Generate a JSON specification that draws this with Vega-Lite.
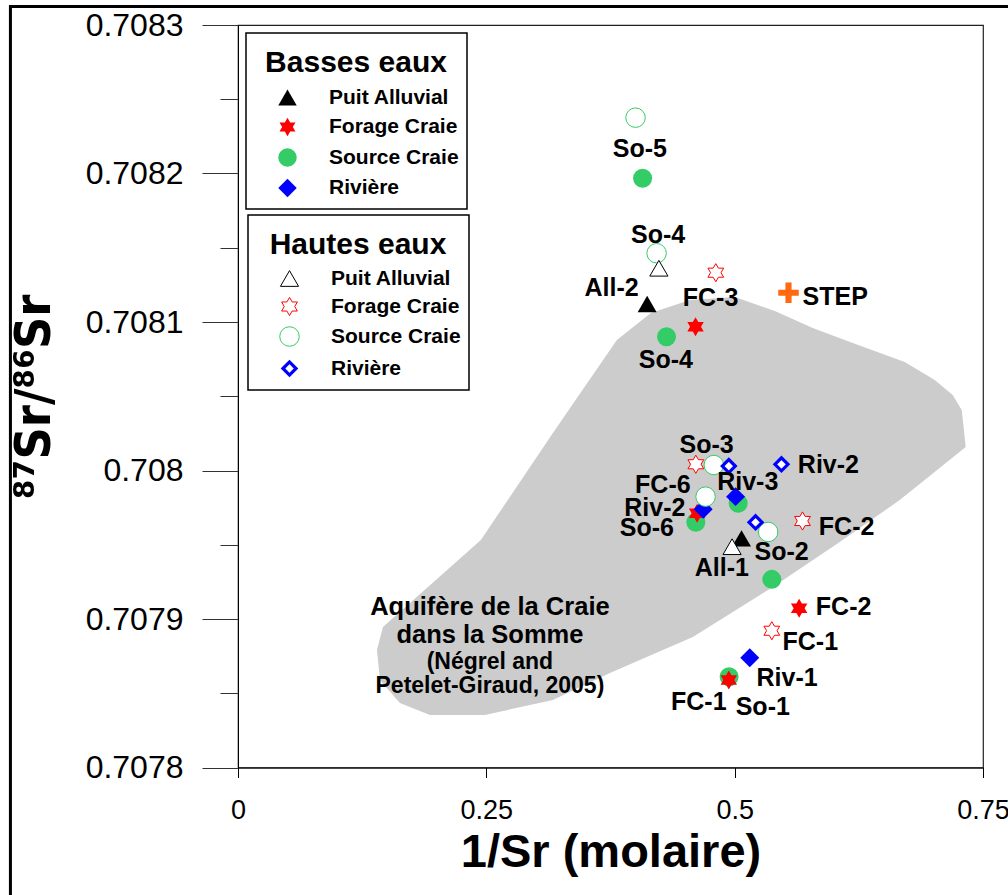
{
  "$schema": "https://vega.github.io/schema/vega-lite/v6.json",
  "autosize": {"type": "none"},
  "padding": {"left": 238, "top": 25, "right": 25, "bottom": 127.5},
  "width": 745,
  "height": 742.5,
  "background": "white",
  "datasets": {
    "region": [
      {"order": 1, "x": 0.4156, "y": 0.7081061},
      {"order": 2, "x": 0.4549, "y": 0.7081148},
      {"order": 3, "x": 0.5002, "y": 0.7081168},
      {"order": 4, "x": 0.5404, "y": 0.7081074},
      {"order": 5, "x": 0.5786, "y": 0.7080960},
      {"order": 6, "x": 0.6189, "y": 0.7080859},
      {"order": 7, "x": 0.6712, "y": 0.7080731},
      {"order": 8, "x": 0.7014, "y": 0.7080609},
      {"order": 9, "x": 0.7195, "y": 0.7080508},
      {"order": 10, "x": 0.7286, "y": 0.7080407},
      {"order": 11, "x": 0.7326, "y": 0.7080158},
      {"order": 12, "x": 0.6662, "y": 0.7079801},
      {"order": 13, "x": 0.6058, "y": 0.7079519},
      {"order": 14, "x": 0.5384, "y": 0.7079215},
      {"order": 15, "x": 0.4579, "y": 0.7078879},
      {"order": 16, "x": 0.3744, "y": 0.7078636},
      {"order": 17, "x": 0.3170, "y": 0.7078455},
      {"order": 18, "x": 0.2486, "y": 0.7078354},
      {"order": 19, "x": 0.1932, "y": 0.7078354},
      {"order": 20, "x": 0.1630, "y": 0.7078434},
      {"order": 21, "x": 0.1429, "y": 0.7078589},
      {"order": 22, "x": 0.1399, "y": 0.7078791},
      {"order": 23, "x": 0.1459, "y": 0.7078946},
      {"order": 24, "x": 0.2445, "y": 0.7079532},
      {"order": 25, "x": 0.3170, "y": 0.7080253},
      {"order": 26, "x": 0.3814, "y": 0.7080879}
    ],
    "basses": [
      {"type": "Source Craie", "id": "So-5", "x": 0.4073, "y": 0.7081968},
      {"type": "Source Craie", "id": "So-4", "x": 0.4314, "y": 0.7080901},
      {"type": "Source Craie", "id": "So-3", "x": 0.5035, "y": 0.7079779},
      {"type": "Source Craie", "id": "So-6", "x": 0.4609, "y": 0.7079651},
      {"type": "Source Craie", "id": "So-2", "x": 0.5374, "y": 0.7079267},
      {"type": "Source Craie", "id": "So-1", "x": 0.4944, "y": 0.7078611},
      {"type": "Forage Craie", "id": "FC-3", "x": 0.4606, "y": 0.7080968},
      {"type": "Forage Craie", "id": "FC-6", "x": 0.4622, "y": 0.7079712},
      {"type": "Forage Craie", "id": "FC-2", "x": 0.5649, "y": 0.7079072},
      {"type": "Forage Craie", "id": "FC-1", "x": 0.4941, "y": 0.7078589},
      {"type": "Rivière", "id": "Riv-3", "x": 0.5009, "y": 0.7079824},
      {"type": "Rivière", "id": "Riv-2", "x": 0.4683, "y": 0.7079739},
      {"type": "Rivière", "id": "Riv-1", "x": 0.5152, "y": 0.7078739},
      {"type": "Puit Alluvial", "id": "All-2", "x": 0.4119, "y": 0.7081121},
      {"type": "Puit Alluvial", "id": "All-1", "x": 0.5069, "y": 0.7079543}
    ],
    "hautes": [
      {"type": "Forage Craie", "id": "FC-3", "x": 0.4810, "y": 0.7081332},
      {"type": "Forage Craie", "id": "FC-6", "x": 0.4609, "y": 0.7080042},
      {"type": "Forage Craie", "id": "FC-2", "x": 0.5683, "y": 0.7079660},
      {"type": "Forage Craie", "id": "FC-1", "x": 0.5374, "y": 0.7078921},
      {"type": "Source Craie", "id": "So-5", "x": 0.4002, "y": 0.7082376},
      {"type": "Source Craie", "id": "So-4", "x": 0.4214, "y": 0.7081463},
      {"type": "Source Craie", "id": "So-3", "x": 0.4790, "y": 0.7080037},
      {"type": "Source Craie", "id": "So-6", "x": 0.4707, "y": 0.7079824},
      {"type": "Source Craie", "id": "So-2", "x": 0.5337, "y": 0.7079586},
      {"type": "Rivière", "id": "Riv-3", "x": 0.4941, "y": 0.7080030},
      {"type": "Rivière", "id": "Riv-2", "x": 0.5471, "y": 0.7080042},
      {"type": "Rivière", "id": "Riv-1", "x": 0.5210, "y": 0.7079651},
      {"type": "Puit Alluvial", "id": "All-2", "x": 0.4237, "y": 0.7081362},
      {"type": "Puit Alluvial", "id": "All-1", "x": 0.4974, "y": 0.7079487}
    ],
    "step": [
      {"id": "STEP", "x": 0.5542, "y": 0.7081197}
    ],
    "labels": [
      {"text": "So-5", "anchor": "center", "x": 0.4045, "y": 0.7082163},
      {"text": "So-4", "anchor": "center", "x": 0.4230, "y": 0.7081586},
      {"text": "All-2", "anchor": "center", "x": 0.3761, "y": 0.7081227},
      {"text": "FC-3", "anchor": "center", "x": 0.4757, "y": 0.7081160},
      {"text": "So-4", "anchor": "center", "x": 0.4307, "y": 0.7080744},
      {"text": "So-3", "anchor": "center", "x": 0.4717, "y": 0.7080172},
      {"text": "Riv-3", "anchor": "center", "x": 0.5132, "y": 0.7079925},
      {"text": "FC-6", "anchor": "center", "x": 0.4277, "y": 0.7079902},
      {"text": "Riv-2", "anchor": "center", "x": 0.4196, "y": 0.7079747},
      {"text": "So-6", "anchor": "center", "x": 0.4116, "y": 0.7079613},
      {"text": "So-2", "anchor": "center", "x": 0.5472, "y": 0.7079453},
      {"text": "All-1", "anchor": "center", "x": 0.4871, "y": 0.7079343},
      {"text": "FC-1", "anchor": "center", "x": 0.4639, "y": 0.7078443},
      {"text": "So-1", "anchor": "center", "x": 0.5283, "y": 0.7078409},
      {"text": "STEP", "anchor": "left", "x": 0.5683, "y": 0.7081166},
      {"text": "Riv-2", "anchor": "left", "x": 0.5636, "y": 0.7080037},
      {"text": "FC-2", "anchor": "left", "x": 0.5847, "y": 0.7079622},
      {"text": "FC-2", "anchor": "left", "x": 0.5817, "y": 0.7079083},
      {"text": "FC-1", "anchor": "left", "x": 0.5482, "y": 0.7078847},
      {"text": "Riv-1", "anchor": "left", "x": 0.5220, "y": 0.7078603}
    ],
    "note": [
      {"part": "main", "text": "Aquifère de la Craie\ndans la Somme", "x": 0.2536, "y": 0.7079027},
      {"part": "ref", "text": "(Négrel and\nPetelet-Giraud, 2005)", "x": 0.2536, "y": 0.7078663}
    ]
  },
  "layer": [
    {
      "encoding": {
        "x": {
          "field": "x", "type": "quantitative",
          "scale": {"domain": [0, 0.75], "nice": false, "zero": false},
          "axis": {
            "values": [0, 0.25, 0.5, 0.75],
            "format": ".2~f",
            "title": "1/Sr (molaire)",
            "titleFont": "Liberation Sans",
            "titleFontSize": 47,
            "titleFontWeight": "bold",
            "titleColor": "black",
            "titlePadding": 6,
            "labelFont": "Liberation Sans",
            "labelFontSize": 27,
            "labelColor": "black",
            "labelPadding": 20,
            "labelFlush": false,
            "tickSize": 10,
            "tickColor": "black",
            "domainColor": "black",
            "grid": false
          }
        },
        "y": {
          "field": "y", "type": "quantitative",
          "scale": {"domain": [0.7078, 0.7083], "nice": false, "zero": false},
          "axis": {
            "values": [0.7078, 0.70785, 0.7079, 0.70795, 0.708, 0.70805, 0.7081, 0.70815, 0.7082, 0.70825, 0.7083],
            "format": "~g",
            "labelExpr": "round(datum.value * 20000) % 2 == 0 ? datum.label : ''",
            "title": "⁸⁷Sr/⁸⁶Sr",
            "titleFont": "DejaVu Sans Condensed, Liberation Sans",
            "titleFontSize": 50,
            "titleFontWeight": "bold",
            "titleColor": "black",
            "titlePadding": 26,
            "labelFont": "Liberation Sans",
            "labelFontSize": 32,
            "labelColor": "black",
            "labelPadding": 19,
            "labelFlush": false,
            "labelOverlap": false,
            "tickSize": {"condition": {"test": "round(datum.value * 20000) % 2 == 0", "value": 36}, "value": 18},
            "tickColor": "#333333",
            "domainColor": "black",
            "grid": false
          }
        }
      },
      "layer": [
        {
          "data": {"name": "region"},
          "mark": {"type": "line", "filled": true, "fill": "#cccccc", "strokeWidth": 0},
          "encoding": {
            "order": {"field": "order", "type": "quantitative"}
          }
        },
        {
          "data": {"name": "note"},
          "transform": [{"filter": "datum.part == 'main'"}],
          "mark": {"type": "text", "font": "Liberation Sans", "fontWeight": "bold", "fontSize": 25.5, "lineHeight": 28, "lineBreak": "\n", "align": "center", "baseline": "alphabetic", "color": "black"},
          "encoding": {
            "text": {"field": "text"}
          }
        },
        {
          "data": {"name": "note"},
          "transform": [{"filter": "datum.part == 'ref'"}],
          "mark": {"type": "text", "font": "Liberation Sans", "fontWeight": "bold", "fontSize": 23, "lineHeight": 24, "lineBreak": "\n", "align": "center", "baseline": "alphabetic", "color": "black"},
          "encoding": {
            "text": {"field": "text"}
          }
        },
        {
          "data": {"name": "basses"},
          "mark": {"type": "point", "filled": true, "size": 360, "strokeWidth": 0, "opacity": 1},
          "encoding": {
            "shape": {
              "field": "type", "type": "nominal", "title": "Basses eaux",
              "scale": {"domain": ["Puit Alluvial", "Forage Craie", "Source Craie", "Rivière"], "range": ["triangle-up", "M0,-1L0.289,-0.5L0.866,-0.5L0.577,0L0.866,0.5L0.289,0.5L0,1L-0.289,0.5L-0.866,0.5L-0.577,0L-0.866,-0.5L-0.289,-0.5Z", "circle", "diamond"]},
              "legend": {"orient": "none", "legendX": 8, "legendY": 8, "titlePadding": 16, "rowPadding": 5.5}
            },
            "fill": {
              "field": "type", "type": "nominal", "title": "Basses eaux",
              "scale": {"domain": ["Puit Alluvial", "Forage Craie", "Source Craie", "Rivière"], "range": ["#000000", "#ff0000", "#33cc66", "#0000ff"]},
              "legend": {"orient": "none", "legendX": 8, "legendY": 8, "titlePadding": 16, "rowPadding": 5.5}
            }
          }
        },
        {
          "data": {"name": "hautes"},
          "mark": {"type": "point", "filled": false, "fill": "white", "fillOpacity": 1, "opacity": 1},
          "encoding": {
            "shape": {
              "field": "type", "type": "nominal", "title": "Hautes eaux",
              "scale": {"domain": ["Puit Alluvial", "Forage Craie", "Source Craie", "Rivière"], "range": ["triangle-up", "M0,-1L0.289,-0.5L0.866,-0.5L0.577,0L0.866,0.5L0.289,0.5L0,1L-0.289,0.5L-0.866,0.5L-0.577,0L-0.866,-0.5L-0.289,-0.5Z", "circle", "diamond"]},
              "legend": {"orient": "none", "legendX": 10, "legendY": 190, "titlePadding": 15, "rowPadding": 6}
            },
            "stroke": {
              "field": "type", "type": "nominal", "title": "Hautes eaux",
              "scale": {"domain": ["Puit Alluvial", "Forage Craie", "Source Craie", "Rivière"], "range": ["#000000", "#ff0000", "#33cc66", "#0000ff"]},
              "legend": {"orient": "none", "legendX": 10, "legendY": 190, "titlePadding": 15, "rowPadding": 6}
            },
            "strokeWidth": {
              "field": "type", "type": "nominal", "title": "Hautes eaux",
              "scale": {"type": "ordinal", "domain": ["Puit Alluvial", "Forage Craie", "Source Craie", "Rivière"], "range": [1, 1, 1, 3.2]},
              "legend": {"orient": "none", "legendX": 10, "legendY": 190, "titlePadding": 15, "rowPadding": 6}
            },
            "size": {
              "field": "type", "type": "nominal", "title": "Hautes eaux",
              "scale": {"type": "ordinal", "domain": ["Puit Alluvial", "Forage Craie", "Source Craie", "Rivière"], "range": [330, 330, 380, 170]},
              "legend": {"orient": "none", "legendX": 10, "legendY": 190, "titlePadding": 15, "rowPadding": 6}
            }
          }
        },
        {
          "data": {"name": "step"},
          "mark": {"type": "point", "shape": "M-1,-0.3H-0.3V-1H0.3V-0.3H1V0.3H0.3V1H-0.3V0.3H-1Z", "filled": true, "fill": "#ff6a10", "size": 420, "strokeWidth": 0, "opacity": 1}
        },
        {
          "data": {"name": "labels"},
          "transform": [{"filter": "datum.anchor == 'center'"}],
          "mark": {"type": "text", "font": "Liberation Sans", "fontWeight": "bold", "fontSize": 25, "align": "center", "baseline": "middle", "color": "black"},
          "encoding": {
            "text": {"field": "text"}
          }
        },
        {
          "data": {"name": "labels"},
          "transform": [{"filter": "datum.anchor == 'left'"}],
          "mark": {"type": "text", "font": "Liberation Sans", "fontWeight": "bold", "fontSize": 25, "align": "left", "baseline": "middle", "color": "black"},
          "encoding": {
            "text": {"field": "text"}
          }
        }
      ],
      "resolve": {
        "scale": {"shape": "independent", "fill": "independent", "stroke": "independent", "strokeWidth": "independent", "size": "independent"},
        "legend": {"shape": "independent", "fill": "independent", "stroke": "independent", "strokeWidth": "independent", "size": "independent"}
      }
    },
    {
      "data": {"values": [{}]},
      "mark": {"type": "rule", "color": "black", "strokeWidth": 3, "clip": false},
      "encoding": {
        "x": {"datum": -0.2304, "type": "quantitative"},
        "x2": {"datum": 0.79},
        "y": {"datum": 0.7083125, "type": "quantitative"}
      }
    },
    {
      "data": {"values": [{}]},
      "mark": {"type": "rule", "color": "black", "strokeWidth": 3, "clip": false},
      "encoding": {
        "x": {"datum": -0.2291, "type": "quantitative"},
        "y": {"datum": 0.7083135, "type": "quantitative"},
        "y2": {"datum": 0.7077}
      }
    }
  ],
  "config": {
    "view": {"stroke": "#222222", "strokeWidth": 1.2},
    "font": "Liberation Sans",
    "legend": {
      "titleFont": "Liberation Sans",
      "titleFontSize": 30,
      "titleFontWeight": "bold",
      "titleColor": "black",
      "titleAnchor": "middle",
      "titleAlign": "center",
      "titleLimit": 400,
      "titleLineHeight": 44,
      "titleBaseline": "line-top",
      "titlePadding": 10,
      "labelFont": "Liberation Sans",
      "labelFontSize": 21,
      "labelFontWeight": "bold",
      "labelColor": "black",
      "labelLimit": 300,
      "labelOffset": 31,
      "strokeColor": "black",
      "strokeWidth": 1.5,
      "fillColor": "white",
      "padding": 8,
      "rowPadding": 4,
      "symbolSize": 340,
      "symbolOffset": 23
    }
  }
}
